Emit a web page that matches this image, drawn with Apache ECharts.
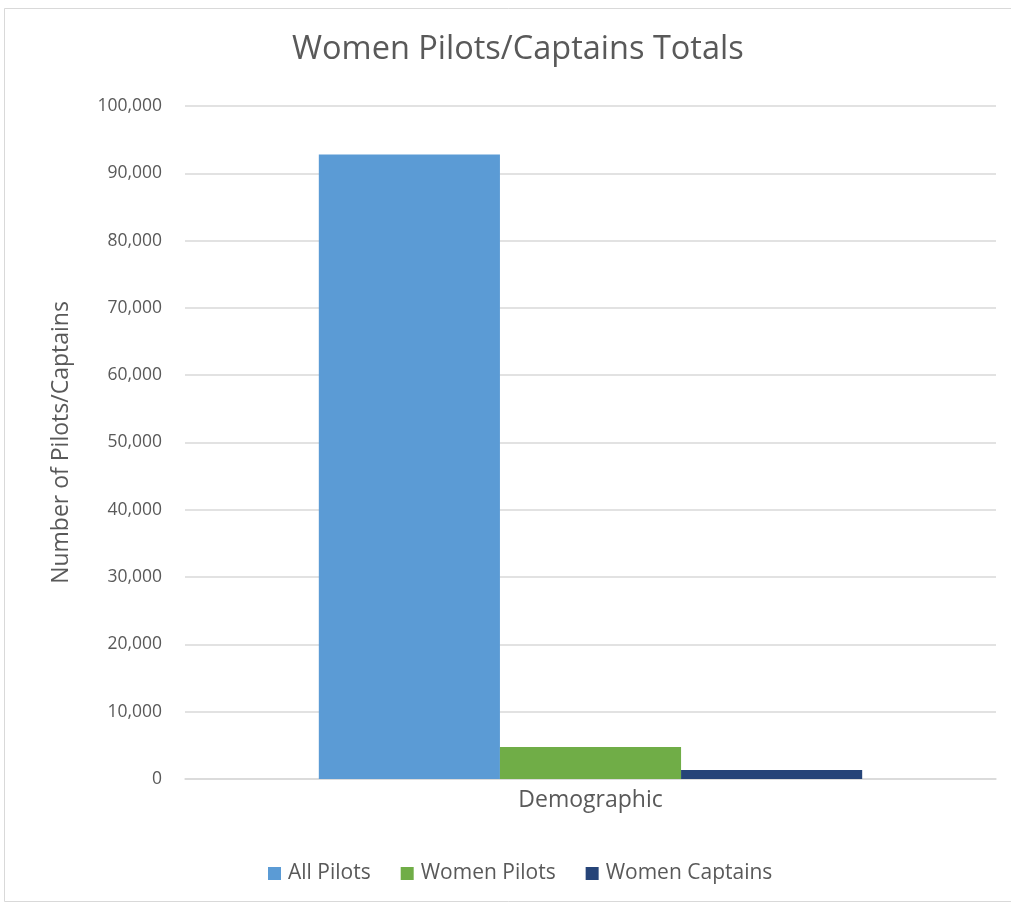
<!DOCTYPE html>
<html><head><meta charset="utf-8">
<script src="https://cdn.jsdelivr.net/npm/echarts@6/dist/echarts.min.js"></script>
<style>html,body{margin:0;padding:0;background:#fff}#c{width:1011px;height:903px}</style>
</head><body><div id="c"></div>
<script>
const categories = ['Demographic'];
const seriesNames = ['All Pilots', 'Women Pilots', 'Women Captains'];
const allPilots = [92800];
const womenPilots = [4750];
const womenCaptains = [1350];
const colors = ['#5B9BD5', '#70AD47', '#264478'];
const font = '"Open Sans", "Noto Sans", sans-serif';

const chart = echarts.init(document.getElementById('c'));
chart.setOption({
  animation: false,
  backgroundColor: '#fff',
  graphic: [{type:'rect', shape:{x:4.5,y:8.5,width:1010,height:893}, style:{fill:'none', stroke:'#d9d9d9', lineWidth:1}, silent:true}],
  title: {text:'Women Pilots/Captains Totals', left:292, top:33, padding:0,
    textStyle:{fontFamily:font, fontSize:32.5, fontWeight:'normal', color:'#595959'}},
  legend: {bottom:19, left:268, itemWidth:13, itemHeight:13, itemGap:30, icon:'rect', padding:0,
    textStyle:{fontFamily:font, fontSize:21, color:'#595959', padding:[0,0,0,2]}},
  grid: {left:185, right:15, top:106, bottom:124},
  xAxis: {type:'category', data:categories,
    axisLine:{lineStyle:{color:'#d9d9d9', width:1.5}}, axisTick:{show:false},
    axisLabel:{fontFamily:font, fontSize:23, color:'#595959', margin:10}},
  yAxis: {type:'value', min:0, max:100000, interval:10000,
    name:'Number of Pilots/Captains', nameLocation:'middle', nameGap:112,
    nameTextStyle:{fontFamily:font, fontSize:23, color:'#595959'},
    axisLine:{show:false}, axisTick:{show:false},
    axisLabel:{fontFamily:font, fontSize:17.5, color:'#595959', margin:23,
      formatter: v => v.toLocaleString('en-US')},
    splitLine:{lineStyle:{color:'#d9d9d9', width:1.5}}},
  series: [
    {name:seriesNames[0], type:'bar', data:allPilots, itemStyle:{color:colors[0]}, barGap:'0%', barCategoryGap:'33%'},
    {name:seriesNames[1], type:'bar', data:womenPilots, itemStyle:{color:colors[1]}, barGap:'0%', barCategoryGap:'33%'},
    {name:seriesNames[2], type:'bar', data:womenCaptains, itemStyle:{color:colors[2]}, barGap:'0%', barCategoryGap:'33%'}
  ]
});
</script></body></html>
